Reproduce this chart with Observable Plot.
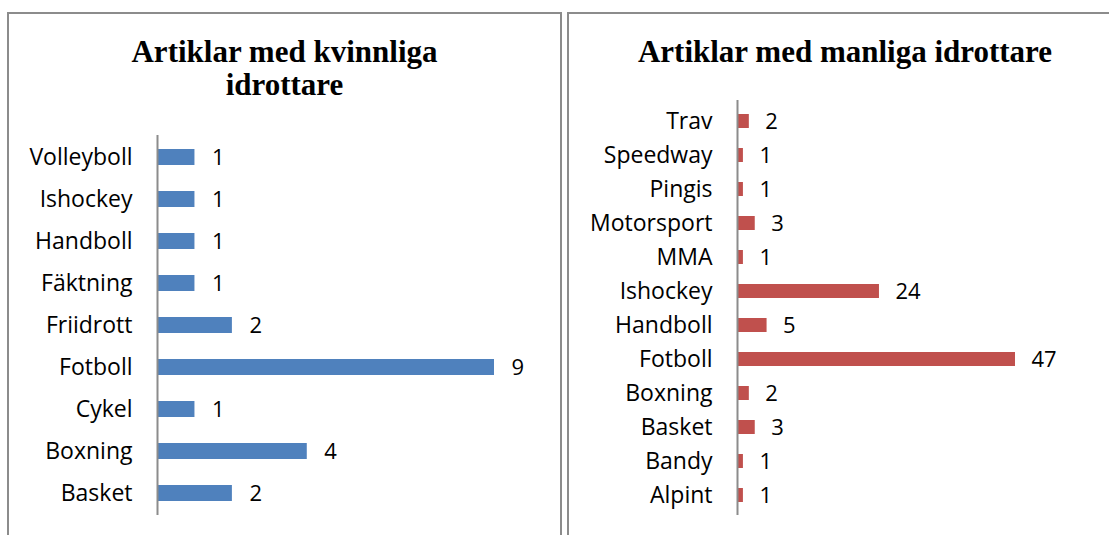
<!DOCTYPE html>
<html>
<head>
<meta charset="utf-8">
<script src="https://cdn.jsdelivr.net/npm/d3@7"></script>
<script src="https://cdn.jsdelivr.net/npm/@observablehq/plot@0.6"></script>
<style>
  html, body { margin: 0; padding: 0; background: #fff; width: 1109px; height: 535px; overflow: hidden; position: relative; }
  .box { position: absolute; border: 2px solid #8c8c8c; box-sizing: border-box; }
  .title { position: absolute; text-align: center; font-family: "Liberation Serif", serif; font-weight: bold; font-size: 31px; line-height: 33px; color: #000; }
  .chart { position: absolute; left: 0; top: 0; }
</style>
</head>
<body>
<div class="box" style="left:7px; top:12px; width:555px; height:540px;"></div>
<div class="box" style="left:567px; top:12px; width:560px; height:540px;"></div>
<div class="title" style="left:7px; width:555px; top:35px;">Artiklar med kvinnliga<br>idrottare</div>
<div class="title" style="left:567px; width:556px; top:35px;">Artiklar med manliga idrottare</div>
<div id="left" class="chart"></div>
<div id="right" class="chart"></div>
<script>
// Women (top to bottom)
const womenSports = ["Volleyboll", "Ishockey", "Handboll", "Fäktning", "Friidrott", "Fotboll", "Cykel", "Boxning", "Basket"];
const womenCounts = [1, 1, 1, 1, 2, 9, 1, 4, 2];
// Men (top to bottom)
const menSports = ["Trav", "Speedway", "Pingis", "Motorsport", "MMA", "Ishockey", "Handboll", "Fotboll", "Boxning", "Basket", "Bandy", "Alpint"];
const menCounts = [2, 1, 1, 3, 1, 24, 5, 47, 2, 3, 1, 1];

const font = "'Open Sans', Lato, sans-serif";

function makeChart(sports, counts, opts) {
  const data = sports.map((s, i) => ({sport: s, n: counts[i]}));
  return Plot.plot({
    width: opts.width,
    height: 535,
    marginLeft: opts.marginLeft,
    marginRight: opts.marginRight,
    marginTop: opts.marginTop,
    marginBottom: opts.marginBottom,
    style: {fontFamily: font, fontSize: "23px", color: "#000", background: "transparent", overflow: "visible"},
    x: {domain: [0, opts.xmax], axis: null},
    y: {domain: sports, paddingInner: opts.padding, paddingOuter: opts.padding / 2, label: null, axis: null},
    marks: [
      Plot.axisY({tickSize: 0, tickPadding: opts.tickPadding, fontSize: 23, fill: "#000", label: null}),
      Plot.barX(data, {x: "n", y: "sport", fill: opts.color}),
      Plot.text(data, {x: "n", y: "sport", text: d => String(d.n), textAnchor: "start", dx: opts.dx, fontSize: 22, fill: "#000"}),
      Plot.ruleX([0], {stroke: "#8c8c8c", strokeWidth: 2})
    ]
  });
}

const left = makeChart(womenSports, womenCounts, {
  width: 560, marginLeft: 157, marginRight: 66, marginTop: 135, marginBottom: 20,
  xmax: 9, padding: 0.62, tickPadding: 25, dx: 17, color: "#4f81bd"
});
document.getElementById("left").appendChild(left);

const right = makeChart(menSports, menCounts, {
  width: 1109, marginLeft: 737, marginRight: 94, marginTop: 100, marginBottom: 20,
  xmax: 47, padding: 0.6, tickPadding: 25, dx: 16, color: "#c0504d"
});
document.getElementById("right").appendChild(right);
</script>
</body>
</html>
